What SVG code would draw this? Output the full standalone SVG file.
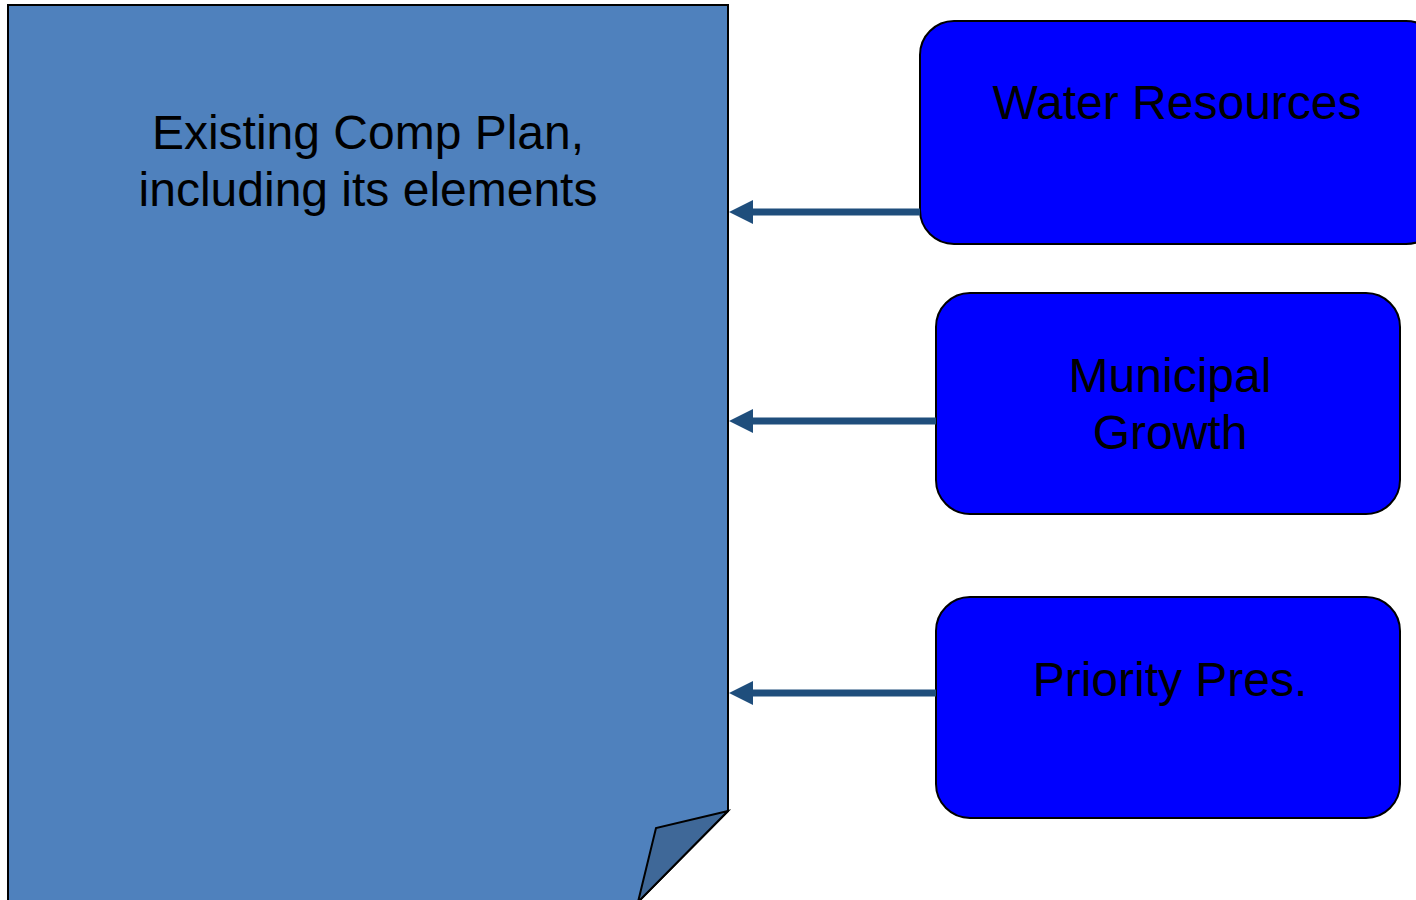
<svg xmlns="http://www.w3.org/2000/svg" width="1416" height="900" viewBox="0 0 1416 900">
<defs>
<style>
.box{fill:#0000ff;stroke:#000;stroke-width:2}
.t{font-family:"Liberation Sans",Arial,sans-serif;font-size:48px;fill:#000;text-anchor:middle}
.c{stroke:#1f4e7c;stroke-width:7;fill:none}
</style>
<marker id="ah" markerWidth="24" markerHeight="24" viewBox="0 0 24 24" refX="0" refY="12" orient="auto" markerUnits="userSpaceOnUse">
<path d="M0,0 L24,12 L0,24 Z" fill="#1f4e7c"/>
</marker>
</defs>
<rect width="1416" height="900" fill="#fff"/>
<g id="page">
<path d="M8,902 L8,5 L728,5 L728,811 L638,902 Z" fill="#4f81bd" stroke="#000" stroke-width="2"/>
<path d="M728,811 L656,828 L638,902 Z" fill="#3f6898" stroke="#000" stroke-width="2"/>
<text class="t" x="368" y="149">Existing Comp Plan,</text>
<text class="t" x="368" y="206">including its elements</text>
</g>
<g id="water">
<rect class="box" x="920" y="21" width="520" height="223" rx="34"/>
<text class="t" x="1177" y="119">Water Resources</text>
</g>
<g id="municipal">
<rect class="box" x="936" y="293" width="464" height="221" rx="34"/>
<text class="t" x="1170" y="392">Municipal</text>
<text class="t" x="1170" y="449">Growth</text>
</g>
<g id="priority">
<rect class="box" x="936" y="597" width="464" height="221" rx="34"/>
<text class="t" x="1170" y="696">Priority Pres.</text>
</g>
<g id="connectors">
<line class="c" x1="920" y1="212" x2="753" y2="212" marker-end="url(#ah)"/>
<line class="c" x1="936" y1="421" x2="753" y2="421" marker-end="url(#ah)"/>
<line class="c" x1="936" y1="693" x2="753" y2="693" marker-end="url(#ah)"/>
</g>
</svg>
